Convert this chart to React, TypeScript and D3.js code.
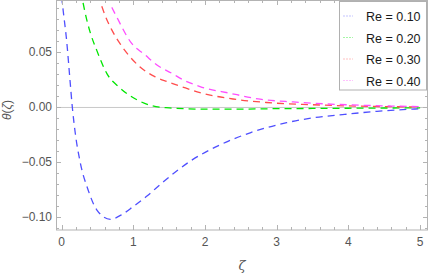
import React from 'react';
import * as d3 from 'd3';

const zetaBlue = [0, 0.024, 0.07, 0.117, 0.15, 0.19, 0.26, 0.37, 0.49, 0.68, 0.85, 1.0, 1.2, 1.42, 1.79, 2.21, 2.63, 3.14, 3.5, 3.88, 4.4, 4.86, 5.0];
const thetaBlue = [0.101, 0.087, 0.061, 0.025, 0.0, -0.023, -0.05, -0.075, -0.093, -0.1017, -0.097, -0.09, -0.08, -0.0675, -0.049, -0.034, -0.023, -0.0138, -0.0095, -0.0068, -0.0035, -0.0016, -0.0012];

const zetaGreen = [0.3, 0.325, 0.4, 0.49, 0.63, 0.81, 1.05, 1.27, 1.5, 1.75, 2.07, 2.5, 3.0, 3.5, 4.0, 4.5, 5.0];
const thetaGreen = [0.095, 0.087, 0.068, 0.052, 0.031, 0.018, 0.007, 0.0014, -0.0004, -0.0012, -0.0016, -0.0015, -0.0011, -0.0009, -0.0007, -0.0005, -0.0004];

const zetaRed = [0.56, 0.605, 0.7, 0.815, 0.955, 1.09, 1.3, 1.47, 1.67, 1.93, 2.39, 2.86, 3.5, 4.0, 4.5, 5.0];
const thetaRed = [0.092, 0.084, 0.0705, 0.058, 0.046, 0.037, 0.028, 0.0235, 0.019, 0.0135, 0.0077, 0.0045, 0.0025, 0.0014, 0.0008, 0.0005];

const zetaMagenta = [0.7, 0.755, 0.98, 1.16, 1.33, 1.54, 1.7, 1.93, 2.35, 2.77, 3.23, 3.7, 4.2, 4.6, 5.0];
const thetaMagenta = [0.091, 0.084, 0.058, 0.048, 0.0386, 0.031, 0.025, 0.019, 0.0129, 0.0075, 0.005, 0.0032, 0.002, 0.0013, 0.0008];

const seriesNames = ['Re = 0.10', 'Re = 0.20', 'Re = 0.30', 'Re = 0.40'];
const seriesColors = ['#4f4fff', '#00e600', '#ff4d4d', '#ff4dff'];

const xTicks = [0, 1, 2, 3, 4, 5];
const yTicks = [-0.1, -0.05, 0, 0.05];

const W = 429;
const H = 273;
const SANS = 'Liberation Sans, Arial, sans-serif';

const App = () => {
  const ref = React.useRef<SVGSVGElement>(null);

  React.useEffect(() => {
    const svg = d3.select(ref.current);
    svg.selectAll('*').remove();

    const left = 56, right = 428, top = 0, bottom = 230;
    const x = d3.scaleLinear().domain([-0.078, 5.11]).range([left, right]);
    const y = d3.scaleLinear().domain([-0.1114, 0.0977]).range([bottom, top]);

    const frameColor = '#b3b3b3';
    const labelColor = '#555';

    svg.append('defs').append('clipPath').attr('id', 'plotclip')
      .append('rect')
      .attr('x', left).attr('y', top)
      .attr('width', right - left).attr('height', bottom - top);

    // zero line
    svg.append('line')
      .attr('x1', left).attr('x2', right)
      .attr('y1', y(0)).attr('y2', y(0))
      .attr('stroke', '#c8c8c8').attr('stroke-width', 1);

    // curves
    const series = [
      { z: zetaBlue, t: thetaBlue },
      { z: zetaGreen, t: thetaGreen },
      { z: zetaRed, t: thetaRed },
      { z: zetaMagenta, t: thetaMagenta },
    ];
    const line = d3.line<[number, number]>()
      .x(d => x(d[0]))
      .y(d => y(d[1]))
      .curve(d3.curveMonotoneX);

    const g = svg.append('g').attr('clip-path', 'url(#plotclip)');
    series.forEach((s, i) => {
      const pts = s.z.map((z, k) => [z, s.t[k]] as [number, number]);
      g.append('path')
        .attr('d', line(pts))
        .attr('fill', 'none')
        .attr('stroke', seriesColors[i])
        .attr('stroke-width', 1.3)
        .attr('stroke-dasharray', '7,5');
    });

    // frame
    svg.append('rect')
      .attr('x', left + 0.5).attr('y', top + 0.5)
      .attr('width', right - left - 1).attr('height', bottom - top - 0.5)
      .attr('fill', 'none').attr('stroke', frameColor).attr('stroke-width', 1);

    const ticks = svg.append('g').attr('stroke', frameColor).attr('stroke-width', 1);
    const xMinor = d3.range(-0.0, 5.01, 0.2).filter(v => !xTicks.some(t => Math.abs(t - v) < 1e-6));
    const yMinor = d3.range(-0.11, 0.0975, 0.01).filter(v => !yTicks.some(t => Math.abs(t - v) < 1e-6));

    xTicks.forEach(v => {
      const px = Math.round(x(v)) + 0.5;
      ticks.append('line').attr('x1', px).attr('x2', px).attr('y1', bottom).attr('y2', bottom - 5);
      ticks.append('line').attr('x1', px).attr('x2', px).attr('y1', top).attr('y2', top + 5);
    });
    xMinor.forEach(v => {
      const px = Math.round(x(v)) + 0.5;
      ticks.append('line').attr('x1', px).attr('x2', px).attr('y1', bottom).attr('y2', bottom - 3);
      ticks.append('line').attr('x1', px).attr('x2', px).attr('y1', top).attr('y2', top + 3);
    });
    yTicks.forEach(v => {
      const py = Math.round(y(v)) + 0.5;
      ticks.append('line').attr('x1', left).attr('x2', left + 5).attr('y1', py).attr('y2', py);
      ticks.append('line').attr('x1', right).attr('x2', right - 5).attr('y1', py).attr('y2', py);
    });
    yMinor.forEach(v => {
      const py = Math.round(y(v)) + 0.5;
      ticks.append('line').attr('x1', left).attr('x2', left + 3).attr('y1', py).attr('y2', py);
      ticks.append('line').attr('x1', right).attr('x2', right - 3).attr('y1', py).attr('y2', py);
    });

    // tick labels
    const fmt = (v: number) => d3.format('.2f')(v).replace('-', '\u2212');
    svg.append('g')
      .attr('font-family', SANS).attr('font-size', 12)
      .attr('fill', labelColor)
      .selectAll('text')
      .data(xTicks)
      .join('text')
      .attr('x', d => x(d))
      .attr('y', 246)
      .attr('text-anchor', 'middle')
      .text(d => String(d));
    svg.append('g')
      .attr('font-family', SANS).attr('font-size', 12)
      .attr('fill', labelColor)
      .selectAll('text')
      .data(yTicks)
      .join('text')
      .attr('x', 52)
      .attr('y', d => y(d) + 4)
      .attr('text-anchor', 'end')
      .text(d => fmt(d));

    // axis labels
    svg.append('text')
      .attr('x', 242).attr('y', 270)
      .attr('text-anchor', 'middle')
      .attr('fill', labelColor)
      .attr('font-family', 'DejaVu Serif, serif').attr('font-size', 13)
      .attr('font-style', 'italic')
      .text('ζ');
    svg.append('text')
      .attr('transform', 'translate(11,110) rotate(-90)')
      .attr('text-anchor', 'middle')
      .attr('fill', labelColor)
      .attr('font-family', SANS).attr('font-size', 12)
      .html('<tspan font-style="italic">θ</tspan>(<tspan font-style="italic">ζ</tspan>)');

    // legend
    const leg = svg.append('g');
    leg.append('rect')
      .attr('x', 339.5).attr('y', 1.5)
      .attr('width', 87).attr('height', 88.5)
      .attr('fill', '#fff').attr('stroke', '#b0b0b0');
    seriesNames.forEach((name, i) => {
      const cy = 16 + i * 21.5;
      leg.append('line')
        .attr('x1', 343).attr('x2', 353)
        .attr('y1', cy).attr('y2', cy)
        .attr('stroke', seriesColors[i])
        .attr('stroke-opacity', 0.35)
        .attr('stroke-width', 1)
        .attr('stroke-dasharray', '2,1');
      leg.append('text')
        .attr('x', 366).attr('y', cy + 5)
        .attr('fill', '#1a1a1a')
        .attr('font-family', SANS).attr('font-size', 12.5)
        .text(name);
    });
  }, []);

  return (
    <svg
      ref={ref}
      width={W}
      height={H}
      style={{ position: 'absolute', left: 0, top: 0, background: '#fff' }}
    />
  );
};

export default App;
